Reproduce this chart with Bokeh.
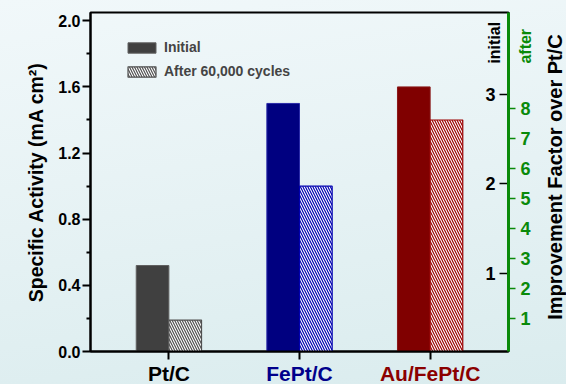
import math
from bokeh.plotting import figure
from bokeh.models import (ColumnDataSource, Range1d, LinearAxis, FixedTicker,
                          Legend, LegendItem, NumeralTickFormatter)
from bokeh.core.properties import value
from bokeh.embed import file_html
from bokeh.resources import INLINE

# ---- data -------------------------------------------------------------
categories = ["Pt/C", "FePt/C", "Au/FePt/C"]
initial = [0.52, 1.50, 1.60]
after = [0.19, 1.00, 1.40]

left_ticks = [0.0, 0.4, 0.8, 1.2, 1.6, 2.0]
left_minor = [0.2, 0.6, 1.0, 1.4, 1.8]
initial_factor_ticks = [1, 2, 3]
after_factor_ticks = [1, 2, 3, 4, 5, 6, 7, 8]

solid_colors = ["#404040", "#000080", "#800000"]
solid_lines = ["#606060", "#2a2aa8", "#8a1818"]
hatch_colors = ["#505050", "#0000b0", "#9a0000"]
label_colors = ["#000000", "#00008b", "#8b0000"]

FONT = "Liberation Sans"
GREEN = "#0a8a0a"

xpos = [i + 1 for i in range(len(categories))]
bar_w = 0.25

src_init = ColumnDataSource(dict(x=[v - bar_w / 2 for v in xpos], top=initial,
                                 fill=solid_colors, line=solid_lines))
src_after = ColumnDataSource(dict(x=[v + bar_w / 2 for v in xpos], top=after,
                                  hatch=hatch_colors))

p = figure(width=566, height=384, output_backend="svg", toolbar_location=None,
           x_range=Range1d(0.4, 3.6), y_range=Range1d(0, 2.05),
           min_border_left=90, min_border_right=58, min_border_top=12,
           min_border_bottom=33, tools="")
p.styles = {"background": "linear-gradient(172deg, #f1f8fa 0%, #e6f2f4 50%, #daecee 100%)"}
p.border_fill_color = None
p.background_fill_color = None
p.outline_line_color = "black"
p.outline_line_width = 2
p.xgrid.visible = False
p.ygrid.visible = False

# bars
r_init = p.vbar(x="x", top="top", width=bar_w, bottom=0, source=src_init,
                fill_color="fill", line_color="line", line_width=1)
r_after = p.vbar(x="x", top="top", width=bar_w, bottom=0, source=src_after,
                 fill_color="white", line_color="hatch", line_width=1.2,
                 hatch_pattern="left_diagonal_line", hatch_color="hatch",
                 hatch_scale=5, hatch_weight=1.2)

# left axis
ya = p.yaxis[0]
ya.ticker = FixedTicker(ticks=left_ticks, minor_ticks=left_minor)
ya.formatter = NumeralTickFormatter(format="0.0")
ya.axis_label = "Specific Activity (mA cm²)"
ya.axis_label_text_font = FONT
ya.axis_label_text_font_style = "bold"
ya.axis_label_text_font_size = "19.5px"
ya.axis_label_text_color = "black"
ya.axis_label_standoff = 8
ya.major_label_text_font = FONT
ya.major_label_text_font_style = "bold"
ya.major_label_text_font_size = "16px"
ya.major_label_text_color = "black"
ya.major_label_standoff = 2
ya.axis_line_width = 2
ya.axis_line_color = "black"
ya.major_tick_line_width = 2
ya.major_tick_line_color = "black"
ya.major_tick_out = 8
ya.major_tick_in = 0
ya.minor_tick_out = 4
ya.minor_tick_in = 0
ya.minor_tick_line_width = 2
ya.minor_tick_line_color = "black"

# bottom axis: tick marks at each category; names are drawn below in colour
xa = p.xaxis[0]
xa.ticker = FixedTicker(ticks=[], minor_ticks=xpos)
xa.axis_line_width = 2
xa.axis_line_color = "black"
xa.minor_tick_out = 8
xa.minor_tick_in = 0
xa.minor_tick_line_width = 2
xa.minor_tick_line_color = "black"

# short ticks between the categories
xa_mid = LinearAxis(fixed_location=0,
                    ticker=FixedTicker(ticks=[], minor_ticks=[0.5, 1.5, 2.5, 3.5]))
xa_mid.axis_line_color = None
xa_mid.minor_tick_out = 5
xa_mid.minor_tick_in = 0
xa_mid.minor_tick_line_width = 2
xa_mid.minor_tick_line_color = "black"
p.add_layout(xa_mid, "below")

p.text(x=xpos, y=[-0.135] * len(xpos), text=categories, level="annotation",
       text_align="center", text_baseline="middle", text_font=value(FONT),
       text_font_style="bold", text_font_size="21px", text_color=label_colors)

# right axes: improvement factor, initial (black) and after cycling (green)
p.extra_y_ranges = {"init": Range1d(0.13, 3.91), "after": Range1d(-0.09, 11.21)}

ax_init = LinearAxis(y_range_name="init",
                     ticker=FixedTicker(ticks=[], minor_ticks=initial_factor_ticks))
ax_init.axis_line_width = 2
ax_init.axis_line_color = "black"
ax_init.minor_tick_line_width = 1.5
ax_init.minor_tick_line_color = "black"
ax_init.minor_tick_in = 9
ax_init.minor_tick_out = 0
p.add_layout(ax_init, "right")

p.text(x=[3.6] * len(initial_factor_ticks), y=initial_factor_ticks,
       text=[str(t) for t in initial_factor_ticks], y_range_name="init",
       x_offset=-13, text_align="right", text_baseline="middle",
       text_font=value(FONT), text_font_style="bold",
       text_font_size="18px", text_color="black")

ax_after = LinearAxis(y_range_name="after",
                      ticker=FixedTicker(ticks=after_factor_ticks, minor_ticks=[]))
ax_after.axis_line_color = GREEN
ax_after.axis_line_width = 3
ax_after.major_tick_line_color = GREEN
ax_after.major_tick_line_width = 1.5
ax_after.major_tick_out = 7
ax_after.major_tick_in = 0
ax_after.minor_tick_in = 0
ax_after.minor_tick_out = 0
ax_after.major_label_text_color = GREEN
ax_after.major_label_text_font = FONT
ax_after.major_label_text_font_style = "bold"
ax_after.major_label_text_font_size = "18px"
ax_after.major_label_standoff = 5
p.add_layout(ax_after, "right")

# rotated captions on the right-hand side
p.text(x=[3.955], y=[1.055], text=["Improvement Factor over Pt/C"],
       angle=math.pi / 2, level="annotation", text_align="center",
       text_baseline="middle", text_font=value(FONT), text_font_style="bold",
       text_font_size="20px", text_color="black")
p.text(x=[3.492, 3.727], y=[1.741, 1.741], text=["initial", "after"],
       angle=math.pi / 2, level="annotation", text_align="left",
       text_baseline="middle", text_font=value(FONT), text_font_style="bold",
       text_font_size="16px", text_color=["black", GREEN])

# legend
legend = Legend(items=[LegendItem(label="Initial", renderers=[r_init], index=0),
                       LegendItem(label="After 60,000 cycles", renderers=[r_after], index=0)],
                location=(34, 272), padding=0, margin=0, spacing=8,
                glyph_width=35, glyph_height=13, label_height=13,
                label_standoff=5, label_text_font=FONT,
                label_text_font_style="bold", label_text_font_size="14px",
                background_fill_alpha=0, border_line_alpha=0)
p.add_layout(legend)

open("out.html", "w").write(file_html(p, INLINE))
